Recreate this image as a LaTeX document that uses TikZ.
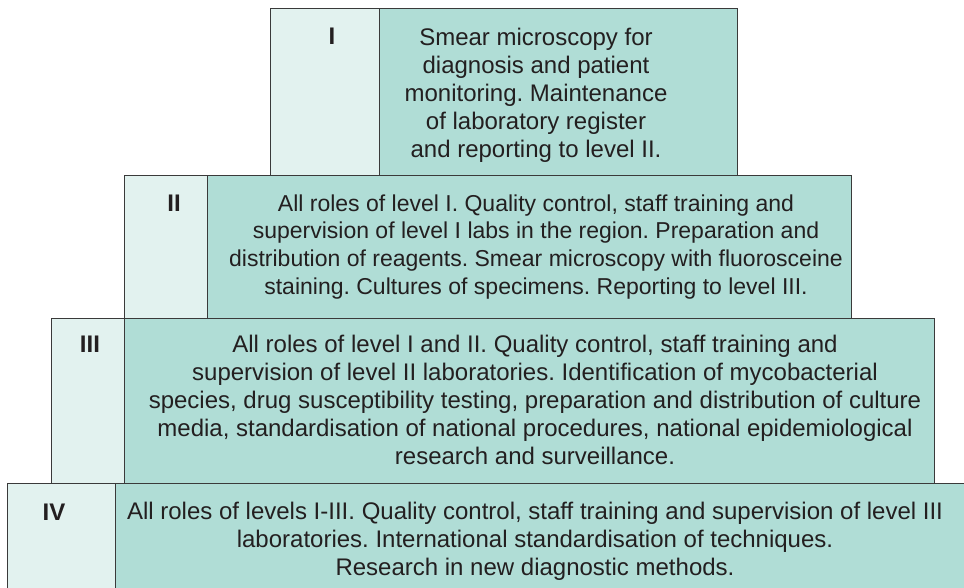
\documentclass[tikz,border=0pt]{standalone}
\usepackage{fontspec}
\setmainfont{Liberation Sans}
\frenchspacing
\definecolor{cellLight}{HTML}{E2F2EF}
\definecolor{cellDark}{HTML}{B0DDD6}
\definecolor{edgeGray}{HTML}{3A3A3A}
\definecolor{inkText}{HTML}{231F20}
\tikzset{
  lightcell/.style={draw=edgeGray, line width=1pt, fill=cellLight, inner sep=0pt, anchor=north west},
  darkcell/.style={draw=edgeGray, line width=1pt, fill=cellDark, inner sep=0pt, anchor=north west},
  levellabel/.style={anchor=base, inner sep=0pt, text=inkText, font=\fontsize{24}{28.2}\selectfont\bfseries},
  bodytext/.style={anchor=north, inner sep=0pt, align=center, text=inkText, font=\fontsize{24}{28.2}\selectfont\frenchspacing},
  smalltext/.style={bodytext, font=\fontsize{23}{27.7}\selectfont\frenchspacing}
}
\begin{document}
\begin{tikzpicture}[x=1pt, y=-1pt]
\useasboundingbox (0,0) rectangle (964,587);
% Level I
\node[lightcell, minimum width=109pt, minimum height=167pt] (c1l) at (270,8) {};
\node[darkcell, minimum width=358pt, minimum height=167pt] (c1d) at (379,8) {};
% Level II
\node[lightcell, minimum width=83pt, minimum height=143pt] (c2l) at (124,175) {};
\node[darkcell, minimum width=644pt, minimum height=143pt] (c2d) at (207,175) {};
% Level III
\node[lightcell, minimum width=73pt, minimum height=165pt] (c3l) at (51,318) {};
\node[darkcell, minimum width=810pt, minimum height=165pt] (c3d) at (124,318) {};
% Level IV
\node[lightcell, minimum width=108pt, minimum height=120pt] (c4l) at (7,483) {};
\node[darkcell, minimum width=860pt, minimum height=120pt] (c4d) at (115,483) {};
% labels
\node[levellabel] (t1) at (332,44) {I};
\node[levellabel] (t2) at (174,211) {II};
\node[levellabel] (t3) at (90,352) {III};
\node[levellabel] (t4) at (54,520) {IV};
% texts
\node[bodytext] (x1) at (536,27.5) {Smear microscopy for\\diagnosis and patient\\monitoring. Maintenance\\of laboratory register\\and reporting to level II.};
\node[smalltext] (x2) at (536,194.2) {All roles of level I. Quality control, staff training and\\supervision of level I labs in the region. Preparation and\\distribution of reagents. Smear microscopy with fluorosceine\\staining. Cultures of specimens. Reporting to level III.};
\node[bodytext] (x3) at (535,334.5) {All roles of level I and II. Quality control, staff training and\\supervision of level II laboratories. Identification of mycobacterial\\species, drug susceptibility testing, preparation and distribution of culture\\media, standardisation of national procedures, national epidemiological\\research and surveillance.};
\node[bodytext] (x4) at (535,501.5) {All roles of levels I-III. Quality control, staff training and supervision of level III\\laboratories. International standardisation of techniques.\\Research in new diagnostic methods.};
\end{tikzpicture}
\end{document}
